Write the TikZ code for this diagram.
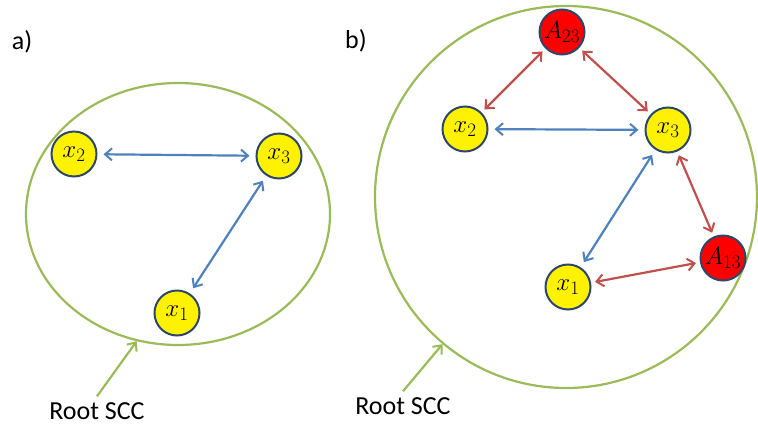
\documentclass[tikz,border=0pt]{standalone}
\usepackage{fontspec}
\newfontfamily\capfont{Carlito}
\usetikzlibrary{arrows.meta,shapes.geometric}
\definecolor{linkblue}{RGB}{79,129,189}
\definecolor{linkred}{RGB}{192,80,77}
\definecolor{sccgreen}{RGB}{155,187,89}
\definecolor{nodeedge}{RGB}{45,70,105}
% variable name with an enlarged upright index
\newcommand{\vlabel}[2]{$#1_{\hbox{\fontsize{19}{19}\selectfont #2}}$}
\tikzset{
  barb/.tip={Straight Barb[length=7pt,width=12pt,line width=2pt]},
  var/.style={circle, draw=nodeedge, line width=2pt, fill=yellow,
    minimum size=45pt, inner sep=0pt, font=\fontsize{25}{25}\selectfont},
  aux/.style={var, fill=red},
  blink/.style={draw=linkblue, line width=2.2pt, barb-barb, shorten <=6pt, shorten >=6pt},
  rlink/.style={draw=linkred, line width=2.2pt, barb-barb, shorten <=4pt, shorten >=4pt},
  scc/.style={draw=sccgreen, line width=2.2pt, inner sep=0pt},
  pointer/.style={draw=sccgreen, line width=2.2pt, -barb},
  caption/.style={font=\capfont\fontsize{26}{26}\selectfont, inner sep=1pt}
}
\begin{document}
\begin{tikzpicture}[x=1pt,y=-1pt]
\useasboundingbox (0,0) rectangle (758,426);
\fill[white] (0,0) rectangle (758,426);

% panel a
\node[caption] (la) at (22,42) {a)};
\node[scc, ellipse, minimum width=304pt, minimum height=262pt] (sccA) at (178,214) {};
\node[var] (a2) at (74,154) {\vlabel{x}{2}};
\node[var] (a3) at (279,156) {\vlabel{x}{3}};
\node[var] (a1) at (177,313) {\vlabel{x}{1}};
\draw[blink] (a2) -- (a3);
\draw[blink] (a3) -- (a1);
\node[caption] (ra) at (97,411) {Root SCC};
\coordinate (raS) at ([yshift=5pt]ra.north);
\draw[pointer] (raS) -- (sccA.252);

% panel b
\node[caption] (lb) at (356,41) {b)};
\node[scc, circle, minimum size=382pt] (sccB) at (566,197) {};
\node[aux] (b23) at (562,32) {\vlabel{A}{23}};
\node[var] (b2) at (465,129) {\vlabel{x}{2}};
\node[var] (b3) at (668,130) {\vlabel{x}{3}};
\node[aux] (b13) at (723,258) {\vlabel{A}{13}};
\node[var] (b1) at (568,287) {\vlabel{x}{1}};
\draw[rlink] (b23) -- (b2);
\draw[rlink] (b23) -- (b3);
\draw[blink] (b2) -- (b3);
\draw[blink] (b3) -- (b1);
\draw[rlink] (b3) -- (b13);
\draw[rlink] (b1) -- (b13);
\node[caption] (rb) at (403,406) {Root SCC};
\coordinate (rbS) at ([yshift=5pt]rb.north);
\draw[pointer] (rbS) -- (sccB.230);
\end{tikzpicture}
\end{document}
